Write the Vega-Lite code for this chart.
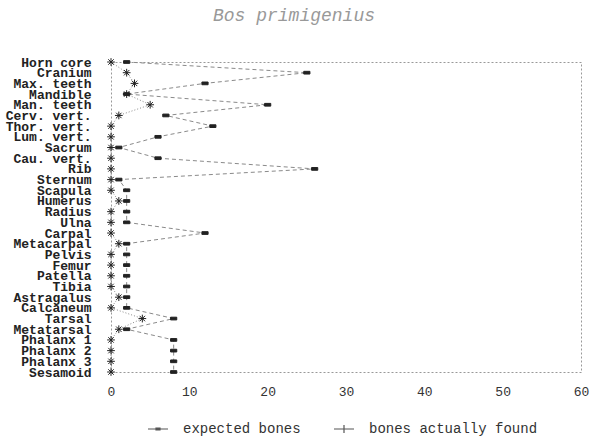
{
  "$schema": "https://vega.github.io/schema/vega-lite/v6.json",
  "autosize": {"type": "none"},
  "width": 470,
  "height": 310,
  "padding": {"left": 111, "top": 62, "right": 11, "bottom": 68},
  "background": "white",
  "title": {
    "text": "Bos primigenius",
    "font": "Liberation Mono",
    "fontStyle": "italic",
    "fontWeight": "normal",
    "fontSize": 18,
    "color": "#999999",
    "anchor": "middle",
    "dx": -52,
    "offset": 31
  },
  "config": {
    "view": {"stroke": "#999999", "strokeDash": [2, 2], "strokeWidth": 1},
    "axis": {"grid": false, "ticks": false, "domain": false, "title": null}
  },
  "resolve": {"scale": {"shape": "independent"}},
  "data": {
    "values": [
      {"idx": 0, "bone": "Horn core", "series": "expected bones", "count": 2},
      {"idx": 1, "bone": "Cranium", "series": "expected bones", "count": 25},
      {"idx": 2, "bone": "Max. teeth", "series": "expected bones", "count": 12},
      {"idx": 3, "bone": "Mandible", "series": "expected bones", "count": 2},
      {"idx": 4, "bone": "Man. teeth", "series": "expected bones", "count": 20},
      {"idx": 5, "bone": "Cerv. vert.", "series": "expected bones", "count": 7},
      {"idx": 6, "bone": "Thor. vert.", "series": "expected bones", "count": 13},
      {"idx": 7, "bone": "Lum. vert.", "series": "expected bones", "count": 6},
      {"idx": 8, "bone": "Sacrum", "series": "expected bones", "count": 1},
      {"idx": 9, "bone": "Cau. vert.", "series": "expected bones", "count": 6},
      {"idx": 10, "bone": "Rib", "series": "expected bones", "count": 26},
      {"idx": 11, "bone": "Sternum", "series": "expected bones", "count": 1},
      {"idx": 12, "bone": "Scapula", "series": "expected bones", "count": 2},
      {"idx": 13, "bone": "Humerus", "series": "expected bones", "count": 2},
      {"idx": 14, "bone": "Radius", "series": "expected bones", "count": 2},
      {"idx": 15, "bone": "Ulna", "series": "expected bones", "count": 2},
      {"idx": 16, "bone": "Carpal", "series": "expected bones", "count": 12},
      {"idx": 17, "bone": "Metacarpal", "series": "expected bones", "count": 2},
      {"idx": 18, "bone": "Pelvis", "series": "expected bones", "count": 2},
      {"idx": 19, "bone": "Femur", "series": "expected bones", "count": 2},
      {"idx": 20, "bone": "Patella", "series": "expected bones", "count": 2},
      {"idx": 21, "bone": "Tibia", "series": "expected bones", "count": 2},
      {"idx": 22, "bone": "Astragalus", "series": "expected bones", "count": 2},
      {"idx": 23, "bone": "Calcaneum", "series": "expected bones", "count": 2},
      {"idx": 24, "bone": "Tarsal", "series": "expected bones", "count": 8},
      {"idx": 25, "bone": "Metatarsal", "series": "expected bones", "count": 2},
      {"idx": 26, "bone": "Phalanx 1", "series": "expected bones", "count": 8},
      {"idx": 27, "bone": "Phalanx 2", "series": "expected bones", "count": 8},
      {"idx": 28, "bone": "Phalanx 3", "series": "expected bones", "count": 8},
      {"idx": 29, "bone": "Sesamoid", "series": "expected bones", "count": 8},
      {"idx": 0, "bone": "Horn core", "series": "bones actually found", "count": 0},
      {"idx": 1, "bone": "Cranium", "series": "bones actually found", "count": 2},
      {"idx": 2, "bone": "Max. teeth", "series": "bones actually found", "count": 3},
      {"idx": 3, "bone": "Mandible", "series": "bones actually found", "count": 2},
      {"idx": 4, "bone": "Man. teeth", "series": "bones actually found", "count": 5},
      {"idx": 5, "bone": "Cerv. vert.", "series": "bones actually found", "count": 1},
      {"idx": 6, "bone": "Thor. vert.", "series": "bones actually found", "count": 0},
      {"idx": 7, "bone": "Lum. vert.", "series": "bones actually found", "count": 0},
      {"idx": 8, "bone": "Sacrum", "series": "bones actually found", "count": 0},
      {"idx": 9, "bone": "Cau. vert.", "series": "bones actually found", "count": 0},
      {"idx": 10, "bone": "Rib", "series": "bones actually found", "count": 0},
      {"idx": 11, "bone": "Sternum", "series": "bones actually found", "count": 0},
      {"idx": 12, "bone": "Scapula", "series": "bones actually found", "count": 0},
      {"idx": 13, "bone": "Humerus", "series": "bones actually found", "count": 1},
      {"idx": 14, "bone": "Radius", "series": "bones actually found", "count": 0},
      {"idx": 15, "bone": "Ulna", "series": "bones actually found", "count": 0},
      {"idx": 16, "bone": "Carpal", "series": "bones actually found", "count": 0},
      {"idx": 17, "bone": "Metacarpal", "series": "bones actually found", "count": 1},
      {"idx": 18, "bone": "Pelvis", "series": "bones actually found", "count": 0},
      {"idx": 19, "bone": "Femur", "series": "bones actually found", "count": 0},
      {"idx": 20, "bone": "Patella", "series": "bones actually found", "count": 0},
      {"idx": 21, "bone": "Tibia", "series": "bones actually found", "count": 0},
      {"idx": 22, "bone": "Astragalus", "series": "bones actually found", "count": 1},
      {"idx": 23, "bone": "Calcaneum", "series": "bones actually found", "count": 0},
      {"idx": 24, "bone": "Tarsal", "series": "bones actually found", "count": 4},
      {"idx": 25, "bone": "Metatarsal", "series": "bones actually found", "count": 1},
      {"idx": 26, "bone": "Phalanx 1", "series": "bones actually found", "count": 0},
      {"idx": 27, "bone": "Phalanx 2", "series": "bones actually found", "count": 0},
      {"idx": 28, "bone": "Phalanx 3", "series": "bones actually found", "count": 0},
      {"idx": 29, "bone": "Sesamoid", "series": "bones actually found", "count": 0}
    ]
  },
  "encoding": {
    "y": {
      "field": "bone",
      "type": "nominal",
      "sort": {"field": "idx", "op": "min", "order": "ascending"},
      "scale": {"type": "point", "padding": 0},
      "axis": {
        "labelFont": "Liberation Mono",
        "labelFontSize": 13,
        "labelFontWeight": "bold",
        "labelColor": "#222222",
        "labelPadding": 20,
        "labelOverlap": false
      }
    },
    "x": {
      "field": "count",
      "type": "quantitative",
      "scale": {"domain": [0, 60], "nice": false},
      "axis": {
        "values": [0, 10, 20, 30, 40, 50, 60],
        "labelFont": "Liberation Mono",
        "labelFontSize": 13,
        "labelColor": "#333333",
        "labelPadding": 13,
        "labelFlush": false
      }
    }
  },
  "layer": [
    {
      "transform": [{"filter": "datum.series === 'expected bones'"}],
      "mark": {"type": "line", "color": "#8a8a8a", "strokeWidth": 1, "strokeDash": [4, 3]},
      "encoding": {"order": {"field": "idx"}}
    },
    {
      "transform": [{"filter": "datum.series === 'bones actually found'"}],
      "mark": {"type": "line", "color": "#8a8a8a", "strokeWidth": 1, "strokeDash": [1, 2]},
      "encoding": {"order": {"field": "idx"}}
    },
    {
      "mark": {"type": "point", "filled": true, "stroke": "#222222", "strokeWidth": 1, "opacity": 1},
      "encoding": {
        "color": {"value": "#222222"},
        "size": {"value": 60},
        "shape": {
          "field": "series",
          "type": "nominal",
          "scale": {
            "domain": ["expected bones", "bones actually found"],
            "range": ["M-0.8,-0.35H0.8V0.35H-0.8Z", "M-1,0L1,0M0,-1L0,1M-0.7,-0.7L0.7,0.7M-0.7,0.7L0.7,-0.7"]
          },
          "legend": null
        }
      }
    },
    {
      "mark": {"type": "point", "filled": false, "strokeWidth": 1, "opacity": 0},
      "encoding": {
        "color": {"value": "#444444"},
        "shape": {
          "field": "series",
          "type": "nominal",
          "scale": {
            "domain": ["expected bones", "bones actually found"],
            "range": ["M-1,0H1M-0.2,-0.08H0.2V0.08H-0.2Z", "M-1,0H1M0,-0.4V0.4"]
          },
          "legend": {
            "title": null,
            "orient": "none",
            "direction": "horizontal",
            "legendX": 36,
            "legendY": 356,
            "labelFont": "Liberation Mono",
            "labelFontSize": 14,
            "labelColor": "#333333",
            "labelLimit": 400,
            "symbolSize": 400,
            "symbolOpacity": 1,
            "symbolStrokeColor": "#555555",
            "symbolStrokeWidth": 1.2,
            "labelOffset": 14,
            "columnPadding": 30
          }
        }
      }
    }
  ]
}
